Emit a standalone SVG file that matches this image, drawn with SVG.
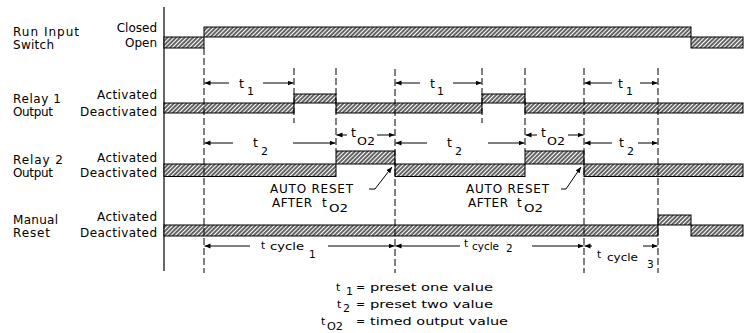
<svg xmlns="http://www.w3.org/2000/svg" width="749" height="333" viewBox="0 0 749 333">
<defs>
<pattern id="hatch" patternUnits="userSpaceOnUse" width="3" height="3" patternTransform="rotate(45)">
<rect width="3" height="3" fill="#ffffff"/>
<line x1="1" y1="0" x2="1" y2="3" stroke="#111" stroke-width="1.3"/>
</pattern>
<marker id="ah" markerUnits="userSpaceOnUse" markerWidth="7" markerHeight="6" refX="6" refY="2.5" orient="auto">
<path d="M0,0 L6,2.5 L0,5 z" fill="#000"/>
</marker>
</defs>
<style>
text{font-family:"DejaVu Sans","Liberation Sans",sans-serif;fill:#000}
.lbl{font-size:12px}
.r{text-anchor:end}
.t{font-size:12.5px}
.s{font-size:11px}
.c{font-size:10.5px}
.lg{font-size:11px}
.bar{fill:url(#hatch);stroke:#000;stroke-width:1}
.dash{stroke:#000;stroke-width:1;stroke-dasharray:7 3;fill:none}
.arr{stroke:#000;stroke-width:1;fill:none;marker-end:url(#ah)}
.ax{stroke:#000;stroke-width:1.2}
</style>

<line class="ax" x1="164" y1="7" x2="164" y2="271"/>

<g id="row-run">
<text class="lbl" x="13" y="36" textLength="66">Run Input</text>
<text class="lbl" x="13" y="49" textLength="41">Switch</text>
<text class="lbl r" x="157" y="32">Closed</text>
<text class="lbl r" x="157" y="47">Open</text>
<rect class="bar" x="164" y="37" width="40" height="11"/>
<rect class="bar" x="204" y="27" width="487" height="10"/>
<rect class="bar" x="691" y="37" width="52" height="11"/>
</g>

<g id="row-relay1">
<text class="lbl" x="13" y="102.5" textLength="48">Relay 1</text>
<text class="lbl" x="13" y="115.5" textLength="40">Output</text>
<text class="lbl r" x="157" y="99" textLength="60">Activated</text>
<text class="lbl r" x="157" y="115.5" textLength="77">Deactivated</text>
<rect class="bar" x="164" y="103" width="130" height="10"/>
<rect class="bar" x="294" y="94" width="42" height="9"/>
<rect class="bar" x="336" y="103" width="146" height="10"/>
<rect class="bar" x="482" y="94" width="43" height="9"/>
<rect class="bar" x="525" y="103" width="218" height="10"/>
</g>

<g id="row-relay2">
<text class="lbl" x="13" y="163.5" textLength="50">Relay 2</text>
<text class="lbl" x="13" y="177" textLength="40">Output</text>
<text class="lbl r" x="157" y="161.5" textLength="60">Activated</text>
<text class="lbl r" x="157" y="177" textLength="77">Deactivated</text>
<rect class="bar" x="164" y="164" width="172" height="12.5"/>
<rect class="bar" x="336" y="151" width="59" height="13"/>
<rect class="bar" x="395" y="164" width="130" height="12.5"/>
<rect class="bar" x="525" y="151" width="59" height="13"/>
<rect class="bar" x="584" y="164" width="159" height="12.5"/>
</g>

<g id="row-manual">
<text class="lbl" x="13" y="224" textLength="45">Manual</text>
<text class="lbl" x="13" y="237" textLength="37">Reset</text>
<text class="lbl r" x="157" y="221" textLength="60">Activated</text>
<text class="lbl r" x="157" y="237" textLength="77">Deactivated</text>
<rect class="bar" x="164" y="225" width="494" height="11"/>
<rect class="bar" x="658" y="215" width="33" height="10"/>
<rect class="bar" x="691" y="225" width="52" height="11"/>
</g>

<g id="connectors">
<line class="dash" x1="204" y1="48" x2="204" y2="273"/>
<line class="dash" x1="294" y1="68" x2="294" y2="123"/>
<line class="dash" x1="336" y1="68" x2="336" y2="151"/>
<line class="dash" x1="395" y1="69" x2="395" y2="273"/>
<line class="dash" x1="482" y1="68" x2="482" y2="123"/>
<line class="dash" x1="525" y1="68" x2="525" y2="151"/>
<line class="dash" x1="584" y1="68" x2="584" y2="273"/>
<line class="dash" x1="658" y1="68" x2="658" y2="273"/>

<line class="arr" x1="229" y1="83" x2="204.5" y2="83"/>
<line class="arr" x1="263" y1="83" x2="293.5" y2="83"/>
<line class="arr" x1="420" y1="83" x2="395.5" y2="83"/>
<line class="arr" x1="453" y1="83" x2="481.5" y2="83"/>
<line class="arr" x1="612" y1="83" x2="584.5" y2="83"/>
<line class="arr" x1="640" y1="83" x2="657.5" y2="83"/>

<line class="arr" x1="233" y1="143" x2="204.5" y2="143"/>
<line class="arr" x1="293" y1="143" x2="335.5" y2="143"/>
<line class="arr" x1="427" y1="143" x2="395.5" y2="143"/>
<line class="arr" x1="488" y1="143" x2="524.5" y2="143"/>
<line class="arr" x1="612" y1="143" x2="584.5" y2="143"/>
<line class="arr" x1="638" y1="143" x2="657.5" y2="143"/>

<line class="arr" x1="347" y1="135" x2="336.5" y2="135"/>
<line class="arr" x1="377" y1="135" x2="394.5" y2="135"/>
<line class="arr" x1="537" y1="135" x2="525.5" y2="135"/>
<line class="arr" x1="568" y1="135" x2="583.5" y2="135"/>

<line class="arr" x1="250" y1="246" x2="204.5" y2="246"/>
<line class="arr" x1="328" y1="246" x2="394.5" y2="246"/>
<line class="arr" x1="460" y1="246" x2="395.5" y2="246"/>
<line class="arr" x1="532" y1="246" x2="583.5" y2="246"/>
<line class="arr" x1="592" y1="246" x2="584.5" y2="246"/>
<line class="arr" x1="643" y1="246" x2="657.5" y2="246"/>

<polyline class="arr" points="369,189 375,189 392,167"/>
<polyline class="arr" points="561,189 566,189 581,167"/>
</g>

<g id="dim-labels">
<text class="t" x="239" y="88">t</text><text class="s" x="247" y="95">1</text>
<text class="t" x="430" y="88">t</text><text class="s" x="437" y="95">1</text>
<text class="t" x="618" y="88">t</text><text class="s" x="626" y="95">1</text>

<text class="t" x="253" y="147">t</text><text class="s" x="261" y="155">2</text>
<text class="t" x="447" y="147">t</text><text class="s" x="455" y="155">2</text>
<text class="t" x="619" y="147">t</text><text class="s" x="627" y="155">2</text>

<text class="t" x="351" y="137">t</text><text class="s" x="357" y="145" textLength="18" lengthAdjust="spacingAndGlyphs">O2</text>
<text class="t" x="541" y="137">t</text><text class="s" x="547" y="145" textLength="18" lengthAdjust="spacingAndGlyphs">O2</text>

<text class="c" x="261" y="249">t</text><text class="c" x="270" y="250" textLength="34" lengthAdjust="spacingAndGlyphs">cycle</text><text class="c" x="309" y="258">1</text>
<text class="c" x="464" y="247">t</text><text class="c" x="472" y="250" textLength="27" lengthAdjust="spacingAndGlyphs">cycle</text><text class="c" x="506" y="252">2</text>
<text class="c" x="597" y="258">t</text><text class="c" x="607" y="261" textLength="31" lengthAdjust="spacingAndGlyphs">cycle</text><text class="c" x="647" y="268">3</text>
</g>

<g id="auto-reset-1">
<text class="lbl" x="270" y="193" textLength="83">AUTO RESET</text>
<text class="lbl" x="272" y="207" textLength="40">AFTER</text>
<text class="lbl" x="322" y="207">t</text><text class="s" x="329" y="212" textLength="19" lengthAdjust="spacingAndGlyphs">O2</text>
</g>
<g id="auto-reset-2">
<text class="lbl" x="466" y="193" textLength="83">AUTO RESET</text>
<text class="lbl" x="468" y="207" textLength="40">AFTER</text>
<text class="lbl" x="517" y="207">t</text><text class="s" x="524" y="212" textLength="19" lengthAdjust="spacingAndGlyphs">O2</text>
</g>

<g id="legend">
<text class="lg" x="336" y="291">t</text><text class="lg" x="346" y="295">1</text>
<text class="lg" x="356" y="291">=</text>
<text class="lg" x="370" y="291" textLength="123" lengthAdjust="spacingAndGlyphs">preset one value</text>
<text class="lg" x="337" y="308">t</text><text class="lg" x="343" y="312">2</text>
<text class="lg" x="356" y="308">=</text>
<text class="lg" x="370" y="308" textLength="123" lengthAdjust="spacingAndGlyphs">preset two value</text>
<text class="lg" x="321" y="325">t</text><text class="lg" x="327" y="330" textLength="16" lengthAdjust="spacingAndGlyphs">O2</text>
<text class="lg" x="356" y="325">=</text>
<text class="lg" x="370" y="325" textLength="138" lengthAdjust="spacingAndGlyphs">timed output value</text>
</g>
</svg>
